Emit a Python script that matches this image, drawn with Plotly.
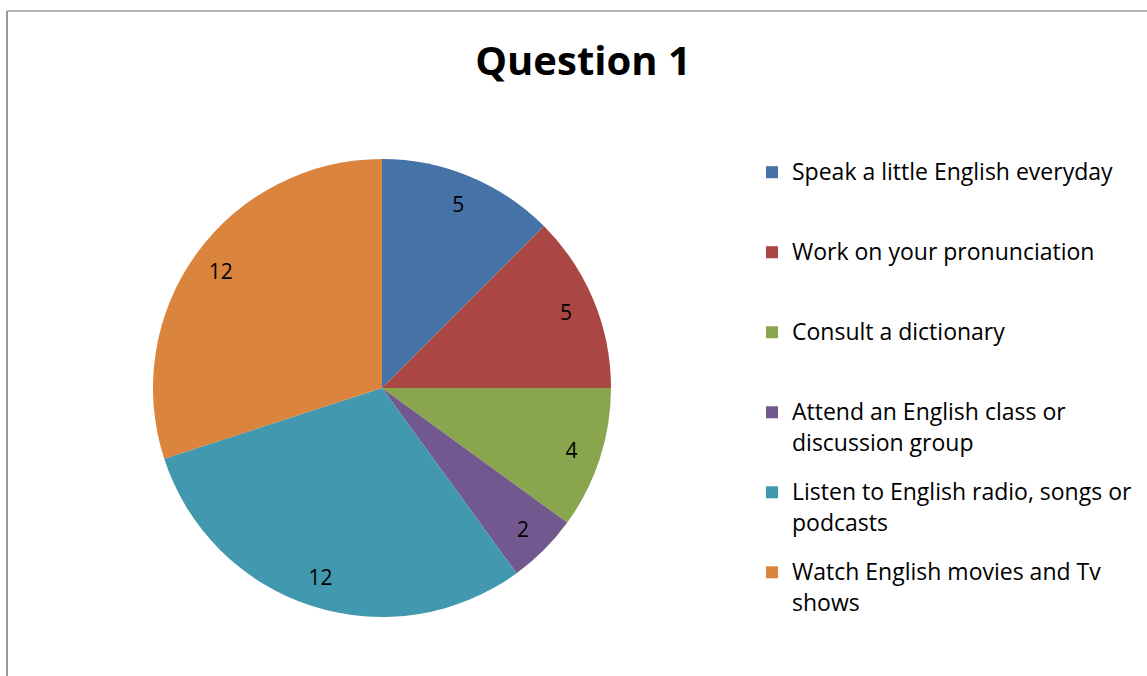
import plotly.graph_objects as go

categories = [
    "Speak a little English everyday",
    "Work on your pronunciation",
    "Consult a dictionary",
    "Attend an English class or<br>discussion group",
    "Listen to English radio, songs or<br>podcasts",
    "Watch English movies and Tv<br>shows",
]
values = [5, 5, 4, 2, 12, 12]
colors = ["#4572A7", "#AA4643", "#89A54E", "#71588F", "#4198AF", "#DB843D"]
title_text = "Question 1"

W, H = 1147, 676
FONT = "'Open Sans', Calibri, Lato, sans-serif"
LEG_SIZE = 23


def legend_label(text):
    # five thin lines per entry: text on lines 1 and 3, blanks elsewhere
    parts = text.split("<br>")
    lines = [" "] * 5
    lines[0] = parts[0]
    if len(parts) > 1:
        lines[2] = parts[1]
    return "<br>".join(
        '<span style="font-size:%dpx;baseline-shift:-3px">%s</span>' % (LEG_SIZE, ln)
        for ln in lines
    )


legend_labels = [legend_label(c) for c in categories]

dom_x = [153 / W, 611 / W]
dom_y = [1 - 617 / H, 1 - 159 / H]

fig = go.Figure()
fig.add_trace(go.Pie(
    labels=legend_labels,
    values=values,
    sort=False,
    direction="clockwise",
    rotation=0,
    marker=dict(colors=colors, line=dict(width=0)),
    textinfo="none",
    hoverinfo="value",
    domain=dict(x=dom_x, y=dom_y),
    showlegend=True,
))
# transparent ring carrying the data labels near the outer edge
fig.add_trace(go.Pie(
    labels=legend_labels,
    values=values,
    sort=False,
    direction="clockwise",
    rotation=0,
    hole=0.74,
    marker=dict(colors=["rgba(0,0,0,0)"] * len(values), line=dict(width=0)),
    textinfo="value",
    textposition="inside",
    insidetextorientation="horizontal",
    textfont=dict(family=FONT, size=21, color="#000000"),
    hoverinfo="skip",
    domain=dict(x=dom_x, y=dom_y),
    showlegend=False,
))

fig.update_layout(
    width=W, height=H,
    margin=dict(l=0, r=0, t=0, b=0),
    paper_bgcolor="white",
    plot_bgcolor="white",
    title=dict(
        text="<b>" + title_text + "</b>",
        x=583 / W, xanchor="center",
        y=1 - 61 / H, yanchor="middle",
        font=dict(family=FONT, size=40, color="#000000"),
    ),
    legend=dict(
        x=752 / W, xanchor="left",
        y=1 - 158 / H, yanchor="top",
        font=dict(family=FONT, size=11.85, color="#000000"),
        valign="top",
        bgcolor="rgba(0,0,0,0)",
        traceorder="normal",
    ),
    shapes=[
        dict(type="line", xref="paper", yref="paper",
             x0=7 / W, x1=7 / W, y0=1 - 11 / H, y1=0,
             line=dict(color="#9a9a9a", width=2)),
        dict(type="line", xref="paper", yref="paper",
             x0=7 / W, x1=1, y0=1 - 11 / H, y1=1 - 11 / H,
             line=dict(color="#9a9a9a", width=1.5)),
    ],
)

fig.write_html("out.html")
